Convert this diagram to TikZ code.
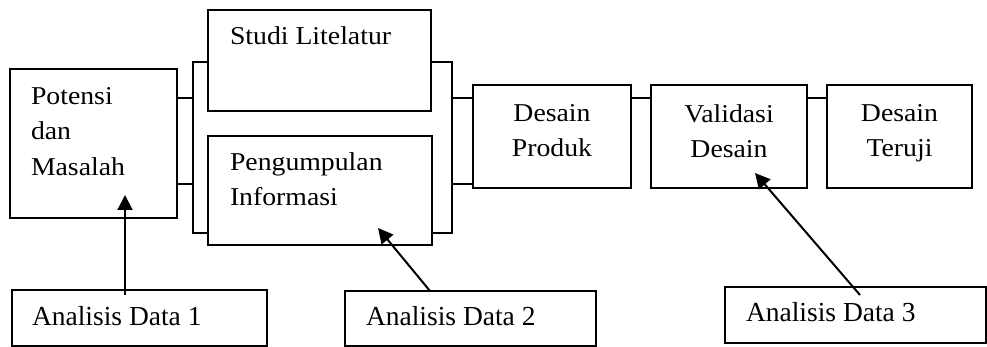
\documentclass[tikz,border=0pt]{standalone}
\usepackage{fontspec}
\newfontfamily\timesfont{Liberation Serif}
\newfontfamily\widefont[FakeStretch=1.08]{Liberation Serif}
\usetikzlibrary{arrows.meta,positioning}

\begin{document}
\begin{tikzpicture}[x=1pt,y=-1pt]
                \tikzstyle{every node}+=[inner sep=0pt, outer sep=0pt]
                \tikzstyle{box}=[draw, line width=1.6pt, anchor=north west]
                \tikzstyle{databox}=[draw, line width=1.2pt, anchor=north west]
                \tikzstyle{txt}=[font=\widefont\fontsize{25.7}{35.5}\selectfont]
                \tikzstyle{datatxt}=[font=\timesfont\fontsize{27.5}{33}\selectfont, anchor=base west]
                \tikzstyle{link}=[line width=1.6pt]
                \tikzstyle{pointer}=[line width=2pt, -{Triangle[width=15pt,length=15pt]}]
                \useasboundingbox (0,0) rectangle (987,347);
                % tahapan
                \node [box, minimum width=167pt, minimum height=149pt] (potensi) at (10,69) {};
                \node [txt, align=left, anchor=north west] (potensi-t) at (31,87.4) {Potensi\\dan\\Masalah};
                \node [box, minimum width=223pt, minimum height=101pt] (studi) at (208,10) {};
                \node [txt, anchor=base west] (studi-t) at (230,45) {Studi Litelatur};
                \node [box, minimum width=224pt, minimum height=109pt] (peng) at (208,136) {};
                \node [txt, align=left, anchor=north west] (peng-t) at (230,152.4) {Pengumpulan\\Informasi};
                \node [box, minimum width=158pt, minimum height=103pt] (produk) at (473,85) {};
                \node [txt, align=center, anchor=north] (produk-t) at (552,104.4) {Desain\\Produk};
                \node [box, minimum width=156pt, minimum height=103pt] (validasi) at (651,85) {};
                \node [txt, align=center, anchor=north] (validasi-t) at (729,104.4) {Validasi\\Desain};
                \node [box, minimum width=145pt, minimum height=103pt] (teruji) at (827,85) {};
                \node [txt, align=center, anchor=north] (teruji-t) at (899.5,104.4) {Desain\\Teruji};
                % analisis data
                \node [databox, minimum width=255pt, minimum height=56pt] (ad1) at (12,290) {};
                \node [datatxt] (ad1-t) at (32,325.7) {Analisis Data 1};
                \node [databox, minimum width=251pt, minimum height=55pt] (ad2) at (345,291) {};
                \node [datatxt] (ad2-t) at (366,325.7) {Analisis Data 2};
                \node [databox, minimum width=261pt, minimum height=56pt] (ad3) at (725,287) {};
                \node [datatxt] (ad3-t) at (746,321.7) {Analisis Data 3};
                % kurung dan garis penghubung
                \coordinate (kiri) at (193,0);
                \coordinate (kanan) at (452,0);
                \coordinate (atas) at (0,62);
                \coordinate (bawah) at (0,233);
                \coordinate (m1) at (0,98);
                \coordinate (m2) at (0,184);
                \draw [link] (studi.west |- atas) -| (kiri |- bawah) -- (peng.west |- bawah);
                \draw [link] (studi.east |- atas) -| (kanan |- bawah) -- (peng.east |- bawah);
                \draw [link] (potensi.east |- m1) -- (kiri |- m1);
                \draw [link] (potensi.east |- m2) -- (kiri |- m2);
                \draw [link] (kanan |- m1) -- (produk.west |- m1);
                \draw [link] (kanan |- m2) -- (produk.west |- m2);
                \draw [link] (produk.east |- m1) -- (validasi.west |- m1);
                \draw [link] (validasi.east |- m1) -- (teruji.west |- m1);
                % panah analisis
                \coordinate (p1) at (125,195);
                \coordinate (p2) at (378,228);
                \coordinate (p3) at (755,173);
                \draw [pointer] ([yshift=-5pt]ad1.north -| p1) -- (p1);
                \draw [pointer] ([xshift=-40.5pt]ad2.north) -- (p2);
                \draw [pointer] ([xshift=4.5pt, yshift=-8pt]ad3.north) -- (p3);
\end{tikzpicture}
\end{document}
